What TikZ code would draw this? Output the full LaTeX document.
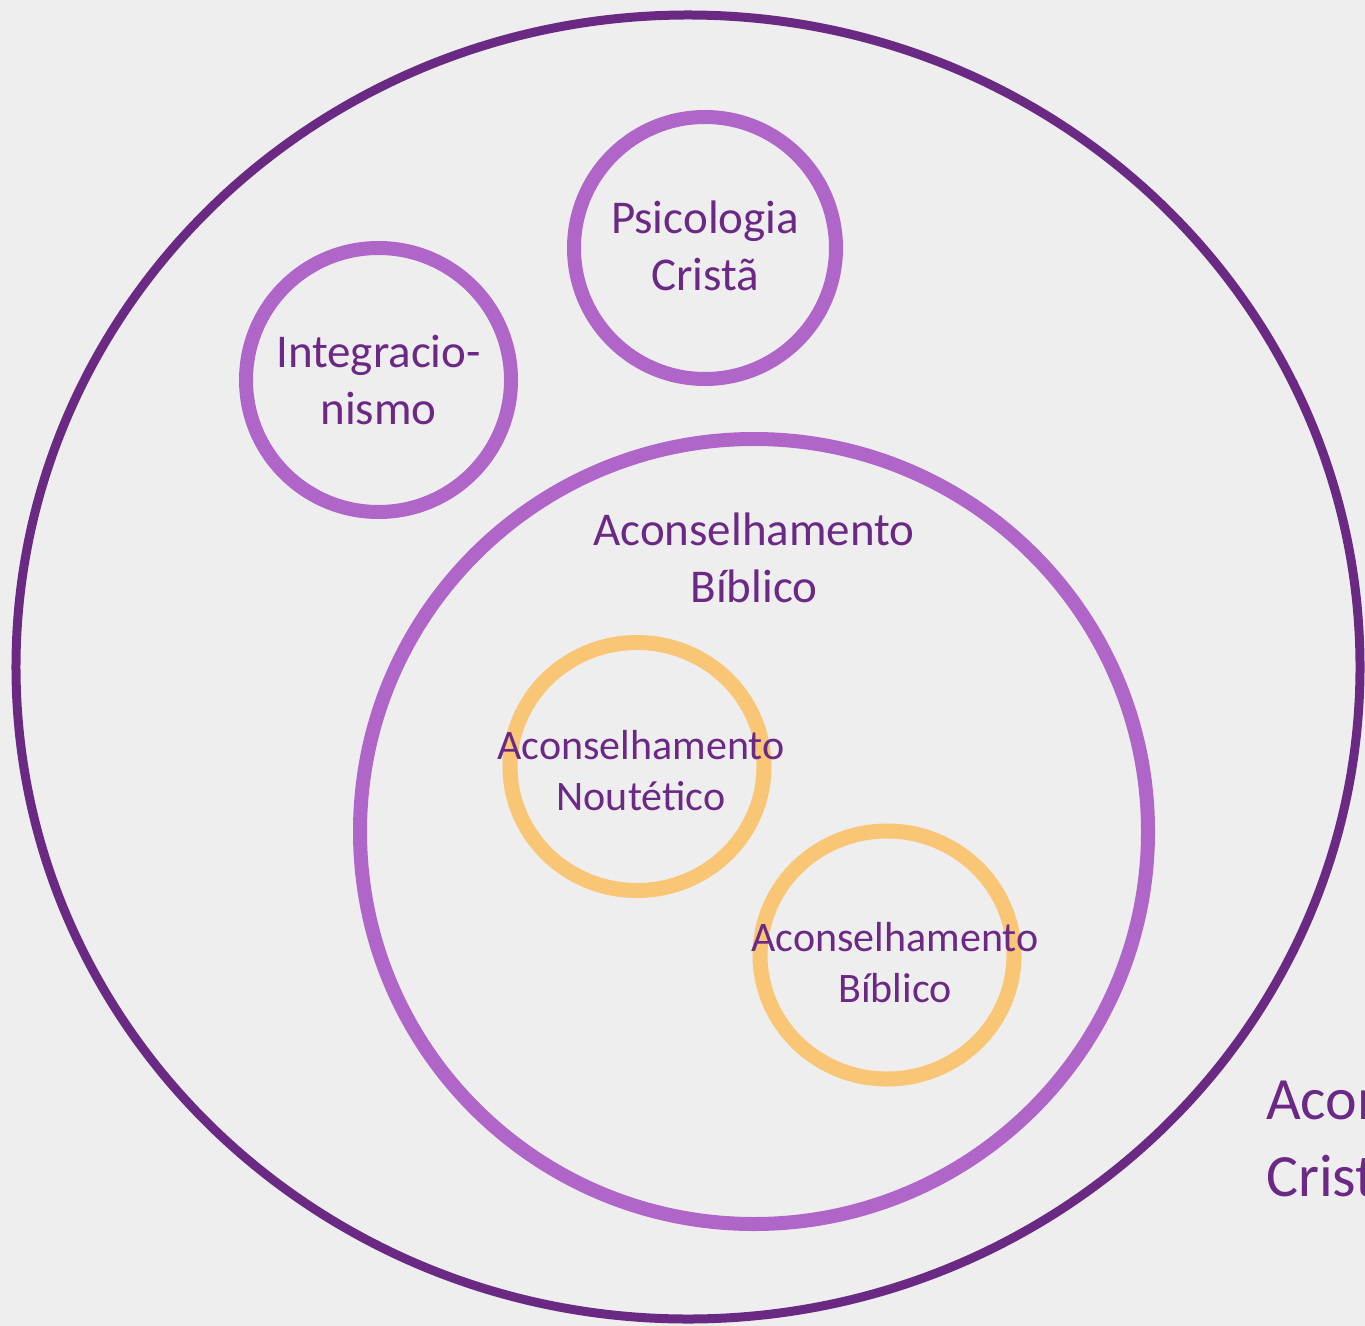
\documentclass[tikz,border=0pt]{standalone}
\usepackage{fontspec}
\setmainfont{Carlito}
\definecolor{outerpurple}{HTML}{6A2A83}
\definecolor{txtpurple}{HTML}{6B2884}
\definecolor{midpurple}{HTML}{B066C8}
\definecolor{ringorange}{HTML}{F9C676}
\definecolor{bggrey}{HTML}{EEEEEE}
\begin{document}
\begin{tikzpicture}[x=1bp,y=-1bp,
  lbl/.style={inner sep=0pt, text=txtpurple, anchor=base},
  bigtxt/.style={lbl, font=\fontsize{47bp}{57bp}\selectfont},
  smalltxt/.style={lbl, font=\fontsize{42bp}{51bp}\selectfont},
  outertxt/.style={lbl, anchor=base west, font=\fontsize{60bp}{76bp}\selectfont},
  outerring/.style={draw=outerpurple, line width=9bp},
  midring/.style={draw=midpurple, line width=14bp},
  innerring/.style={draw=ringorange, line width=15bp}]
\useasboundingbox (0,0) rectangle (1365,1326);
\fill[bggrey] (0,0) rectangle (1365,1326);
\clip (0,0) rectangle (1365,1326);

% rings
\draw[outerring] (688,667) ellipse [x radius=672bp, y radius=652bp];
\draw[midring] (705,248) ellipse [x radius=131bp, y radius=131bp];
\draw[midring] (378.5,380) ellipse [x radius=132.5bp, y radius=132bp];
\draw[midring] (754,831.5) ellipse [x radius=394bp, y radius=392.5bp];
\draw[innerring] (637,766.5) ellipse [x radius=127bp, y radius=124bp];
\draw[innerring] (887,955) ellipse [x radius=127bp, y radius=124bp];

% labels
\node[bigtxt] (psi1) at (705,234) {Psicologia};
\node[bigtxt] (psi2) at (705,291) {Cristã};
\node[bigtxt] (int1) at (378.5,367) {Integracio-};
\node[bigtxt] (int2) at (378.5,424) {nismo};
\node[bigtxt] (ab1) at (754,545) {Aconselhamento};
\node[bigtxt] (ab2) at (754,602) {Bíblico};
\node[smalltxt] (an1) at (641,759) {Aconselhamento};
\node[smalltxt] (an2) at (641,810) {Noutético};
\node[smalltxt] (bb1) at (895,951) {Aconselhamento};
\node[smalltxt] (bb2) at (895,1002) {Bíblico};
\node[outertxt] (ac1) at (1266,1119) {Aconselhamento};
\node[outertxt] (ac2) at (1266,1196) {Cristão};
\end{tikzpicture}
\end{document}
